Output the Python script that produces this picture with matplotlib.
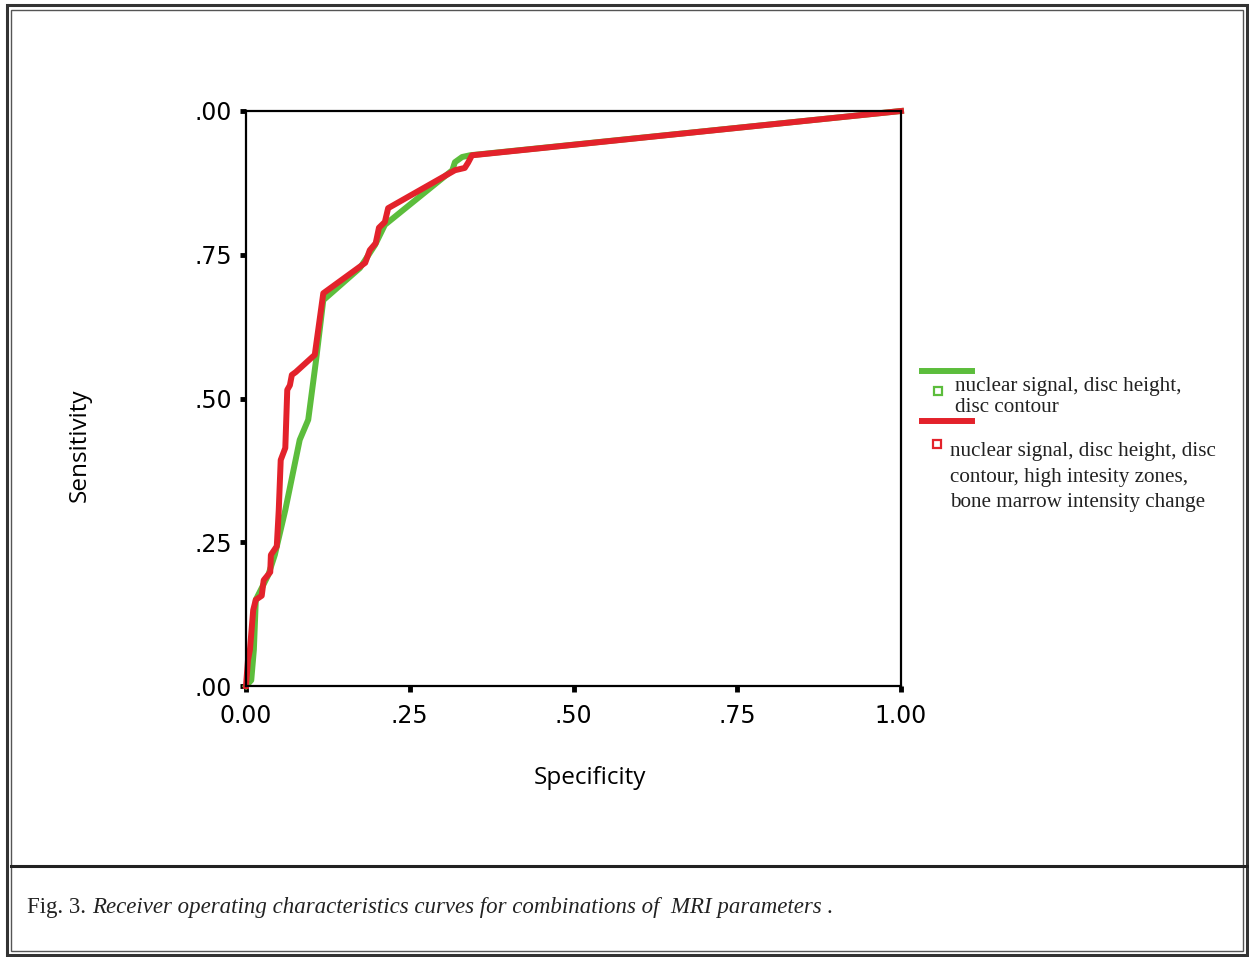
import matplotlib.pyplot as plt
from matplotlib.lines import Line2D
from matplotlib.patches import Rectangle

# ROC curves (x = specificity axis, y = sensitivity)
spec_a = [0.0, 0.008, 0.012, 0.015, 0.034, 0.044, 0.060, 0.082, 0.095, 0.107,
          0.118, 0.174, 0.197, 0.212, 0.315, 0.319, 0.330, 0.342, 1.0]
sens_a = [0.0, 0.010, 0.063, 0.150, 0.193, 0.228, 0.306, 0.428, 0.463, 0.567,
          0.671, 0.727, 0.767, 0.802, 0.897, 0.911, 0.920, 0.923, 1.0]

spec_b = [0.0, 0.003, 0.006, 0.011, 0.015, 0.024, 0.027, 0.037, 0.038, 0.047,
          0.050, 0.053, 0.060, 0.063, 0.067, 0.070, 0.076, 0.105, 0.118, 0.182,
          0.189, 0.198, 0.203, 0.212, 0.217, 0.319, 0.334, 0.339, 0.345, 1.0]
sens_b = [0.0, 0.045, 0.063, 0.132, 0.150, 0.157, 0.184, 0.198, 0.228, 0.243,
          0.306, 0.393, 0.414, 0.515, 0.523, 0.541, 0.546, 0.576, 0.683, 0.736,
          0.758, 0.770, 0.797, 0.807, 0.831, 0.897, 0.901, 0.910, 0.923, 1.0]

xticks = [0, 0.25, 0.5, 0.75, 1.0]
xlabels = ['0.00', '.25', '.50', '.75', '1.00']
yticks = [0, 0.25, 0.5, 0.75, 1.0]
ylabels = ['.00', '.25', '.50', '.75', '.00']

label_a = ['nuclear signal, disc height,', 'disc contour']
label_b = ['nuclear signal, disc height, disc', 'contour, high intesity zones,',
           'bone marrow intensity change']
caption_a = 'Fig. 3.'
caption_b = 'Receiver operating characteristics curves for combinations of  MRI parameters'

green = '#5cbd3c'
red = '#e3222b'

W, H = 1249, 957
fig = plt.figure(figsize=(12.49, 9.57), dpi=100)
ax = fig.add_axes([246 / W, 1 - 686 / H, 655 / W, 575 / H])

ax.plot(spec_a, sens_a, color=green, lw=4.3, clip_on=False, solid_joinstyle='round')
ax.plot(spec_b, sens_b, color=red, lw=4.3, clip_on=False, solid_joinstyle='round')

ax.set_xlim(0, 1)
ax.set_ylim(0, 1)
ax.set_xticks(xticks)
ax.set_xticklabels(xlabels, fontsize=17, family='DejaVu Sans')
ax.set_yticks(yticks)
ax.set_yticklabels(ylabels, fontsize=17, family='DejaVu Sans')
ax.tick_params(direction='out', length=4, width=3.5)
ax.tick_params(axis='x', pad=9)
ax.tick_params(axis='y', pad=6)
for s in ax.spines.values():
    s.set_linewidth(1.6)
ax.set_xlabel('Specificity', fontsize=17.5, family='Open Sans')
ax.set_ylabel('Sensitivity', fontsize=17.5, family='Open Sans')
ax.xaxis.set_label_coords((590 - 246) / 655, (686 - 778) / 575)
ax.yaxis.set_label_coords((80 - 246) / 655, (686 - 445) / 575)
ax.xaxis.label.set_va('center')
ax.yaxis.label.set_va('center')

# legend drawn by hand to match the layout
def fx(px):
    return px / W

def fy(py):
    return 1 - py / H

serif = 'Liberation Serif'
ink = '#222222'
fig.add_artist(Line2D([fx(922), fx(972)], [fy(371), fy(371)], color=green, lw=4.3))
fig.add_artist(Line2D([fx(938)], [fy(391)], marker='s', ms=6, mfc='white', mec=green, mew=1.6, ls='none'))
for i, t in enumerate(label_a):
    fig.text(fx(955), fy(387 + 20 * i), t, fontsize=15.2, family=serif, va='center', color=ink)
fig.add_artist(Line2D([fx(922), fx(972)], [fy(421), fy(421)], color=red, lw=4.3))
fig.add_artist(Line2D([fx(937)], [fy(444)], marker='s', ms=6, mfc='white', mec=red, mew=1.6, ls='none'))
for i, t in enumerate(label_b):
    fig.text(fx(950), fy(452 + 25.5 * i), t, fontsize=15.2, family=serif, va='center', color=ink)

# page frame
fig.add_artist(Rectangle((fx(7), fy(955)), fx(1240), 950 / H, fill=False, ec='#333333', lw=2.2))
fig.add_artist(Rectangle((fx(11), fy(951)), fx(1232), 941 / H, fill=False, ec='#555555', lw=1.0))
fig.add_artist(Line2D([fx(11), fx(1247)], [fy(866), fy(866)], color=ink, lw=2.2))

fig.text(fx(27), fy(913), caption_a, fontsize=16.5, family=serif, va='baseline', color=ink)
fig.text(fx(92), fy(913), caption_b, fontsize=16.5, family=serif, style='italic', va='baseline', color=ink)
fig.text(fx(826), fy(913), '.', fontsize=16.5, family=serif, va='baseline', color=ink)

fig.savefig('out.png', dpi=100)
